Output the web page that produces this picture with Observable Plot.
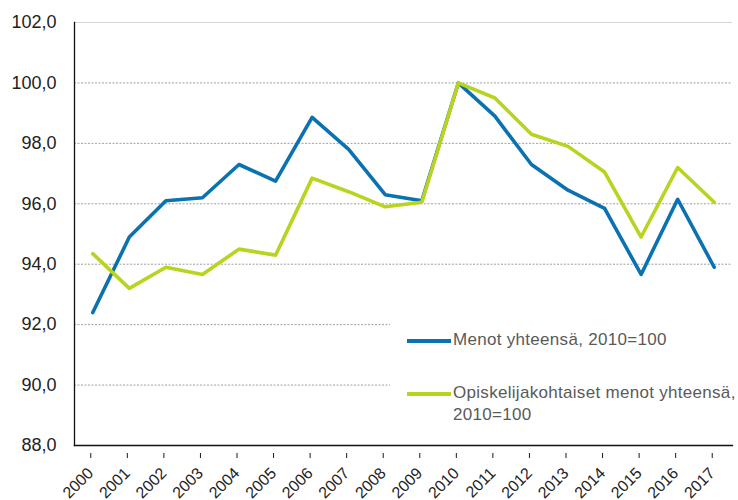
<!DOCTYPE html>
<html>
<head>
<meta charset="utf-8">
<script src="https://cdn.jsdelivr.net/npm/d3@7"></script>
<script src="https://cdn.jsdelivr.net/npm/@observablehq/plot@0.6"></script>
<style>
  html, body { margin: 0; padding: 0; background: #fff; }
  #wrap { position: relative; width: 738px; height: 500px; }
  #legend { position: absolute; left: 390px; top: 300px; width: 342px; height: 132px; background: #fff;
            font-family: "Liberation Sans", Arial, sans-serif; font-size: 17px; color: #5a5a5a; }
  .item { position: absolute; left: 17px; display: flex; align-items: flex-start; white-space: nowrap; }
  .sw { width: 44px; height: 4px; margin-top: 10px; margin-right: 2px; flex: none; }
  .lbl { line-height: 22px; letter-spacing: 0.3px; white-space: nowrap; }
</style>
</head>
<body>
<div id="wrap"></div>
<script>
const years = ["2000","2001","2002","2003","2004","2005","2006","2007","2008","2009","2010","2011","2012","2013","2014","2015","2016","2017"];
const menot = [92.4, 94.9, 96.1, 96.2, 97.3, 96.75, 98.86, 97.8, 96.3, 96.1, 100.0, 98.9, 97.3, 96.45, 95.85, 93.66, 96.15, 93.9];
const opiskelija = [94.35, 93.2, 93.9, 93.66, 94.5, 94.3, 96.85, 96.4, 95.9, 96.05, 100.0, 99.5, 98.3, 97.9, 97.05, 94.9, 97.2, 96.05];
const seriesNames = ["Menot yhteensä, 2010=100", "Opiskelijakohtaiset menot yhteensä,\n2010=100"];
const colors = ["#0a72b0", "#b9d31f"];
const yTicks = [88, 90, 92, 94, 96, 98, 100, 102];

const fmt = d => d.toFixed(1).replace(".", ",");
const rows1 = years.map((y, i) => ({year: y, value: menot[i]}));
const rows2 = years.map((y, i) => ({year: y, value: opiskelija[i]}));

const chart = Plot.plot({
  width: 738, height: 500,
  marginLeft: 74, marginRight: 6, marginTop: 22, marginBottom: 55,
  style: {fontFamily: "'Liberation Sans', Arial, sans-serif", background: "#fff", color: "#1a1a1a"},
  x: {type: "point", domain: years, padding: 0.5, round: false, label: null},
  y: {domain: [88, 102], label: null},
  marks: [
    Plot.ruleY(yTicks.filter(d => d > 88 && d < 102), {stroke: "#a0a0a0", strokeDasharray: "2,1.5", strokeWidth: 1}),
    Plot.ruleY([102], {stroke: "#d4d4d4", strokeWidth: 1}),
    Plot.frame({anchor: "left", stroke: "#111", strokeWidth: 1.3}),
    Plot.frame({anchor: "bottom", stroke: "#111", strokeWidth: 1.3}),
    Plot.axisY({ticks: yTicks, tickFormat: fmt, tickSize: 0, tickPadding: 18, fontSize: 18, fill: "#222", label: null}),
    Plot.axisX({tickRotate: -45, tickSize: 5, tickPadding: 12, dy: 8, dx: -2, fontSize: 16, fill: "#222", label: null}),
    Plot.line(rows1, {x: "year", y: "value", stroke: colors[0], strokeWidth: 3.6}),
    Plot.line(rows2, {x: "year", y: "value", stroke: colors[1], strokeWidth: 3.6})
  ]
});

const wrap = document.getElementById("wrap");
wrap.appendChild(chart);

const legend = document.createElement("div");
legend.id = "legend";
const tops = [29, 82];
seriesNames.forEach((name, i) => {
  const item = document.createElement("div");
  item.className = "item";
  item.style.top = tops[i] + "px";
  const sw = document.createElement("div");
  sw.className = "sw";
  sw.style.background = colors[i];
  const lbl = document.createElement("div");
  lbl.className = "lbl";
  lbl.innerHTML = name.split("\n").join("<br>");
  item.appendChild(sw);
  item.appendChild(lbl);
  legend.appendChild(item);
});
wrap.appendChild(legend);
</script>
</body>
</html>
